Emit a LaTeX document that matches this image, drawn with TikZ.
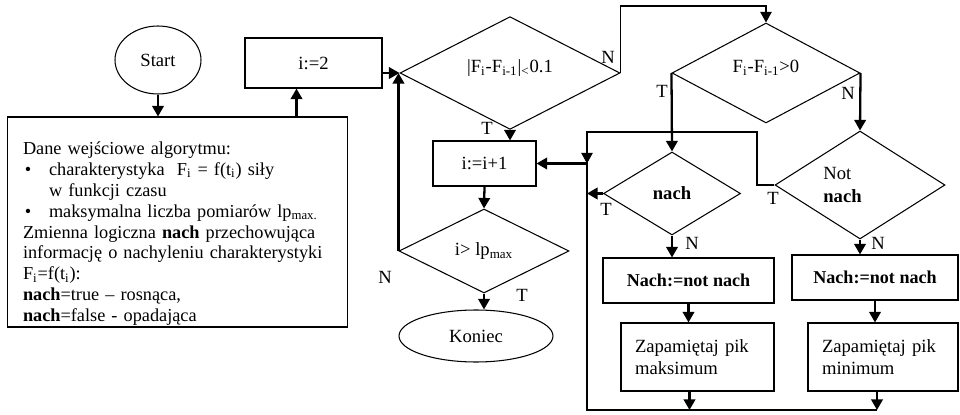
\documentclass[tikz,border=0pt]{standalone}
\usepackage{fontspec}
\setmainfont{Liberation Serif}
\usetikzlibrary{shapes.geometric,arrows.meta,positioning}
\tikzstyle{terminal}=[shape=ellipse,draw,line width=0.6pt,inner sep=0pt]
\tikzstyle{process}=[shape=rectangle,draw,line width=0.6pt,inner sep=0pt]
\tikzstyle{decision}=[shape=diamond,draw,line width=0.6pt,inner sep=0pt]
\tikzstyle{flow}=[-{Triangle[length=6pt,width=6.5pt]},line width=1.3pt]
\tikzstyle{thinflow}=[-{Triangle[length=6pt,width=6.5pt]},line width=0.6pt]
\tikzstyle{link}=[line width=0.6pt]

\begin{document}
\begin{tikzpicture}[x=0.02cm,y=-0.02cm,font=\fontsize{10.6}{12.7}\selectfont]
\useasboundingbox (0,0) rectangle (960,415);
% start and input data
\node[terminal,minimum width=1.72cm,minimum height=1.36cm] (start) at (158,60) {Start};
\node[process,minimum height=4.2cm,inner xsep=0.32cm,text width=6.18cm,align=left,
      font=\fontsize{10.4}{11.9}\selectfont] (input) at (177.5,222)
  {\rule{0pt}{0.72cm}Dane wejściowe algorytmu:\\
   \makebox[0.52cm][l]{\hspace{1pt}\textbullet}charakterystyka\ \ F\textsubscript{i} = f(t\textsubscript{i}) siły\\
   \hspace*{0.52cm}w funkcji czasu\\
   \makebox[0.52cm][l]{\hspace{1pt}\textbullet}maksymalna liczba pomiarów lp\textsubscript{max.}\\
   Zmienna logiczna \textbf{nach} przechowująca\\
   informację o nachyleniu charakterystyki\\
   F\textsubscript{i}=f(t\textsubscript{i}):\\
   \textbf{nach}=true – rosnąca,\\
   \textbf{nach}=false - opadająca};
\node[process,minimum width=2.74cm,minimum height=1cm] (init) at (313.5,63) {i:=2};
% main loop
\node[decision,minimum width=4.4cm,minimum height=2cm] (diff) at (510,73)
  {|F\textsubscript{i}-F\textsubscript{i-1}|\textsubscript{<}0.1\rule[-8pt]{0pt}{1pt}};
\node[process,minimum width=2.06cm,minimum height=0.9cm] (inc) at (484.5,163.5) {i:=i+1};
\node[decision,minimum width=3.4cm,minimum height=1.68cm] (limit) at (484,251) {i> lp\textsubscript{max}};
\node[terminal,minimum width=3.08cm,minimum height=1.04cm] (stop) at (476,336) {Koniec};
% slope
\node[decision,minimum width=3.76cm,minimum height=2cm] (sign) at (766,73)
  {F\textsubscript{i}-F\textsubscript{i-1}>0\rule[-8pt]{0pt}{1pt}};
\node[decision,minimum width=2.74cm,minimum height=1.66cm] (nach) at (672,193.5) {\textbf{nach}};
\node[decision,minimum width=3.4cm,minimum height=2cm,align=left] (notnach) at (860,185)
  {Not\\\textbf{nach}\hspace*{0.7cm}};
\node[process,minimum width=3.42cm,minimum height=0.9cm,font=\fontsize{10.3}{12}\selectfont] (flip1) at (688.5,280.5) {\textbf{Nach:=not nach}};
\node[process,minimum width=3.32cm,minimum height=0.9cm,font=\fontsize{10.3}{12}\selectfont] (flip2) at (875,277.5) {\textbf{Nach:=not nach}};
\node[process,minimum width=3.06cm,minimum height=1.36cm,text width=2.5cm,align=left] (peakmax) at (697.5,357)
  {Zapamiętaj pik\\maksimum};
\node[process,minimum width=3.0cm,minimum height=1.36cm,text width=2.44cm,align=left] (peakmin) at (883,357)
  {Zapamiętaj pik\\minimum};
% answers
\node (n1) at (608,57) {N};
\node (t1) at (487,128) {T};
\node (t2) at (662,91) {T};
\node (n2) at (848,93) {N};
\node (t3) at (606,209) {T};
\node (n3) at (692,243) {N};
\node (t4) at (773,198) {T};
\node (n4) at (878,243) {N};
\node (n5) at (385,277) {N};
\node (t5) at (522,295) {T};
% connectors
\coordinate (over) at (700,6);
\coordinate (loopR) at (757,132);
\coordinate (loopL) at (587,132);
\coordinate (bot) at (587,410);
\draw[flow] (start.south) -- (start.south |- input.north);
\draw[flow] ([xshift=-0.34cm]init.south |- input.north) -- ([xshift=-0.34cm]init.south);
\draw[flow] (init.east |- diff.west) -- (diff.west);
\draw[flow] (limit.west) -- (limit.west |- diff.west);
\draw[flow] (diff.south) -- (diff.south |- inc.north);
\draw[flow] (inc.south) -- (limit.north);
\draw[flow] (limit.south) -- (limit.south |- stop.north);
\draw[thinflow] (diff.east) |- (over) -| (sign.north);
\draw[flow] (sign.west) -- (nach.north);
\draw[flow] (sign.east) -- (notnach.north);
\draw[flow] (nach.south) -- (nach.south |- flip1.north);
\draw[flow] (notnach.south) -- (notnach.south |- flip2.north);
\draw[flow] (flip1.south) -- (flip1.south |- peakmax.north);
\draw[flow] (flip2.south) -- (flip2.south |- peakmin.north);
\draw[flow] ([xshift=-0.16cm]peakmax.south) -- ([xshift=-0.16cm]peakmax.south |- bot);
\draw[flow] ([xshift=-0.12cm]peakmin.south) -- ([xshift=-0.12cm]peakmin.south |- bot);
\draw[link] (notnach.west) -| (loopR) -- (loopL) -- (bot) -- ([xshift=-0.12cm]peakmin.south |- bot);
\draw[thinflow] (loopL) -- (loopL |- inc.east);
\draw[flow] (loopL |- inc.east) -- (inc.east);
\draw[flow] (nach.west) -- (nach.west -| bot);
\end{tikzpicture}
\end{document}
